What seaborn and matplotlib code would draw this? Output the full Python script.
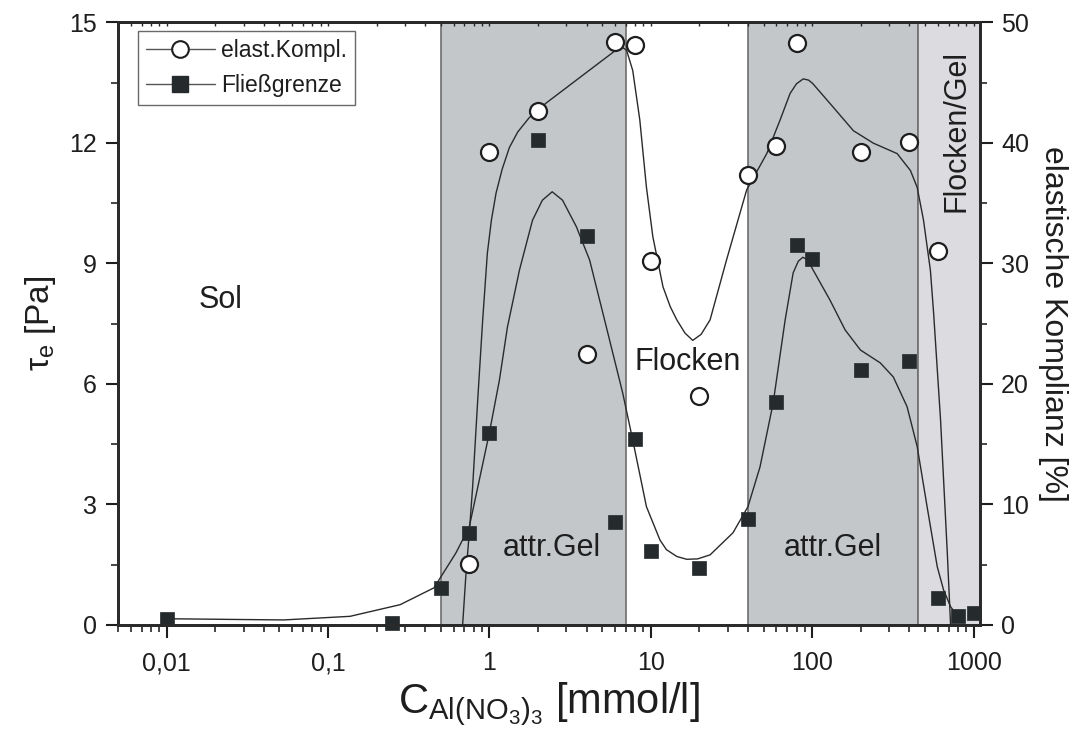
import numpy as np
import matplotlib
matplotlib.use("Agg")
import matplotlib.pyplot as plt
import seaborn as sns
from matplotlib.lines import Line2D

# Messwerte Fliessgrenze (linke Achse, Pa)
conc_tau = [0.01, 0.25, 0.5, 0.75, 1, 2, 4, 6, 8, 10, 20, 40, 60, 80, 100, 200, 400, 600, 800, 1000]
tau_e = [0.15, 0.05, 0.92, 2.29, 4.78, 12.06, 9.68, 2.56, 4.63, 1.84, 1.42, 2.64,
         5.55, 9.45, 9.10, 6.34, 6.57, 0.67, 0.22, 0.29]

# Messwerte elastische Komplianz (rechte Achse, %)
conc_ek = [0.75, 1, 2, 4, 6, 8, 10, 20, 40, 60, 80, 200, 400, 600]
ek = [5.06, 39.2, 42.6, 22.5, 48.4, 48.1, 30.2, 19.0, 37.3, 39.7, 48.3, 39.2, 40.1, 31.0]

# Ausgleichskurven
fit_tau_x = [0.01, 0.053, 0.137, 0.28, 0.454, 0.621, 0.751, 0.867, 1.0, 1.154, 1.294, 1.536,
             1.85, 2.13, 2.45, 2.84, 3.46, 4.18, 5.3, 6.7, 7.73, 9.4, 11.4, 12.5, 14.5, 16.7,
             19.5, 23.3, 32.3, 40, 47.5, 57.3, 68, 76.2, 82, 87.5, 94, 101.4, 129, 160, 199,
             264, 318, 387, 447, 515, 595, 651, 720, 795]
fit_tau_y = [0.15, 0.12, 0.21, 0.50, 0.92, 1.79, 2.44, 3.61, 4.78, 6.09, 7.41, 8.83,
             10.07, 10.57, 10.78, 10.57, 9.91, 9.08, 7.42, 5.77, 4.60, 2.94, 2.11, 1.87, 1.70,
             1.63, 1.64, 1.74, 2.29, 2.94, 3.93, 5.52, 7.59, 8.76, 9.05, 9.15, 9.08, 8.83, 8.08,
             7.34, 6.84, 6.52, 6.17, 5.43, 4.44, 2.94, 1.45, 0.87, 0.45, 0.22]

fit_ek_x = [0.683, 0.717, 0.751, 0.788, 0.85, 0.909, 0.972, 1.03, 1.10, 1.2, 1.33, 1.5, 1.77,
            2.25, 3.46, 5.03, 6.1, 6.58, 7.07, 7.73, 8.55, 9.4, 10.3, 11.9, 13.2, 14.5, 16.3,
            18.2, 20.5, 23.3, 29.5, 39.3, 52.3, 63.3, 73, 80, 88, 95, 101, 135, 180, 239,
            336, 406, 447, 489, 540, 565, 624, 687, 720]
fit_ek_y = [0.0, 4.31, 7.63, 11.47, 19.0, 25.29, 30.85, 33.6, 35.82, 37.8, 39.6, 40.9, 42.1,
            43.3, 45.2, 46.85, 47.7, 47.95, 47.7, 46.0, 41.9, 36.3, 32.2, 28.05, 26.4, 25.3,
            24.2, 23.6, 24.1, 25.3, 30.3, 36.1, 39.1, 41.9, 44.1, 44.9, 45.3, 45.2, 44.9,
            42.95, 41.0, 39.97, 39.1, 37.7, 36.3, 33.6, 29.4, 25.9, 17.0, 5.97, 0.0]

# Bereiche
regions = [(0.5, 7, "#c3c7ca"), (40, 450, "#c3c7ca"), (450, 1150, "#dcdce0")]

xticks = [0.01, 0.1, 1, 10, 100, 1000]
xticklabels = ["0,01", "0,1", "1", "10", "100", "1000"]

sns.set_style("ticks")
plt.rcParams["font.family"] = ["Liberation Sans", "DejaVu Sans"]
plt.rcParams["mathtext.fontset"] = "custom"
plt.rcParams["mathtext.rm"] = "Liberation Sans"
plt.rcParams["mathtext.it"] = "Liberation Sans"
plt.rcParams["axes.linewidth"] = 2.0
txt = "#1e1e1e"

fig = plt.figure(figsize=(10.82, 7.42), dpi=100)
ax = fig.add_axes([0.109, 0.158, 0.797, 0.812])
ax2 = ax.twinx()

for x0, x1, c in regions:
    ax.axvspan(x0, x1, facecolor=c, edgecolor="#6e6e6e", linewidth=1.2, zorder=0)

sns.lineplot(x=fit_tau_x, y=fit_tau_y, ax=ax, color="#2a2a2a", linewidth=1.0,
             sort=False, estimator=None, zorder=2)
sns.scatterplot(x=conc_tau, y=tau_e, ax=ax, marker="s", s=110, color="#252b2c",
                edgecolor="#252b2c", linewidth=0.5, zorder=3, clip_on=False)

sns.lineplot(x=fit_ek_x, y=fit_ek_y, ax=ax2, color="#2a2a2a", linewidth=1.0,
             sort=False, estimator=None, zorder=2)
sns.scatterplot(x=conc_ek, y=ek, ax=ax2, marker="o", s=150, color="white",
                edgecolor="#1e1e1e", linewidth=1.6, zorder=3)

ax.set_xscale("log")
ax.set_xlim(0.005, 1100)
ax.set_ylim(0, 15)
ax2.set_ylim(0, 50)
ax.set_yticks([0, 3, 6, 9, 12, 15])
ax.set_yticks(np.arange(1.5, 15, 3), minor=True)
ax2.set_yticks([0, 10, 20, 30, 40, 50])
ax2.set_yticks(np.arange(5, 50, 10), minor=True)
ax.set_xticks(xticks)
ax.set_xticklabels(xticklabels)

ax.tick_params(axis="both", which="major", direction="out", length=9, width=1.5,
               labelsize=18, colors=txt, pad=6)
ax.tick_params(axis="both", which="minor", direction="out", length=5, width=1.2)
ax.tick_params(axis="x", which="major", pad=10)
ax2.tick_params(axis="y", which="major", direction="out", length=9, width=1.5,
                labelsize=18, colors=txt, pad=6)
ax2.tick_params(axis="y", which="minor", direction="out", length=5, width=1.2)

top = ax.secondary_xaxis("top")
top.set_xticks(xticks)
top.tick_params(axis="x", which="both", direction="in", length=3, width=1.0, labeltop=False)
top.set_xticklabels([])

for a in (ax, ax2):
    for s in a.spines.values():
        s.set_color("#2a2a2a")
        s.set_linewidth(2.0)

ax.set_xlabel(r"C$_{\mathregular{Al(NO_3)_3}}$ [mmol/l]", fontsize=30, color=txt, labelpad=4)
ax.set_ylabel(r"$\tau_\mathregular{e}$ [Pa]", fontsize=24, color=txt, labelpad=8)
ax2.set_ylabel("elastische Komplianz [%]", fontsize=23, color=txt, rotation=270, labelpad=28)

# Bereichsbeschriftungen
ax.text(0.0216, 8.08, "Sol", fontsize=22, color=txt, ha="center", va="center")
ax.text(17, 6.54, "Flocken", fontsize=22, color=txt, ha="center", va="center")
ax.text(2.43, 1.92, "attr.Gel", fontsize=22, color=txt, ha="center", va="center")
ax.text(135, 1.92, "attr.Gel", fontsize=22, color=txt, ha="center", va="center")
ax.text(780, 12.3, "Flocken/Gel", fontsize=22, color=txt, ha="center", va="center",
        rotation=90)

handles = [
    Line2D([], [], color="#555555", linewidth=1.0, marker="o", markersize=12,
           markerfacecolor="white", markeredgecolor="#1e1e1e", markeredgewidth=1.5),
    Line2D([], [], color="#555555", linewidth=1.0, marker="s", markersize=11,
           markerfacecolor="#252b2c", markeredgecolor="#252b2c"),
]
leg = ax2.legend(handles, ["elast.Kompl.", "Fließgrenze"], loc="upper left",
                 bbox_to_anchor=(0.023, 0.985), fontsize=16.5, frameon=True, fancybox=False,
                 handlelength=3.0, handletextpad=0.3, borderpad=0.35, labelspacing=0.5,
                 borderaxespad=0.0)
leg.get_frame().set_edgecolor("#444444")
leg.get_frame().set_linewidth(1.0)
for t in leg.get_texts():
    t.set_color(txt)

fig.savefig("out.png", dpi=100)
